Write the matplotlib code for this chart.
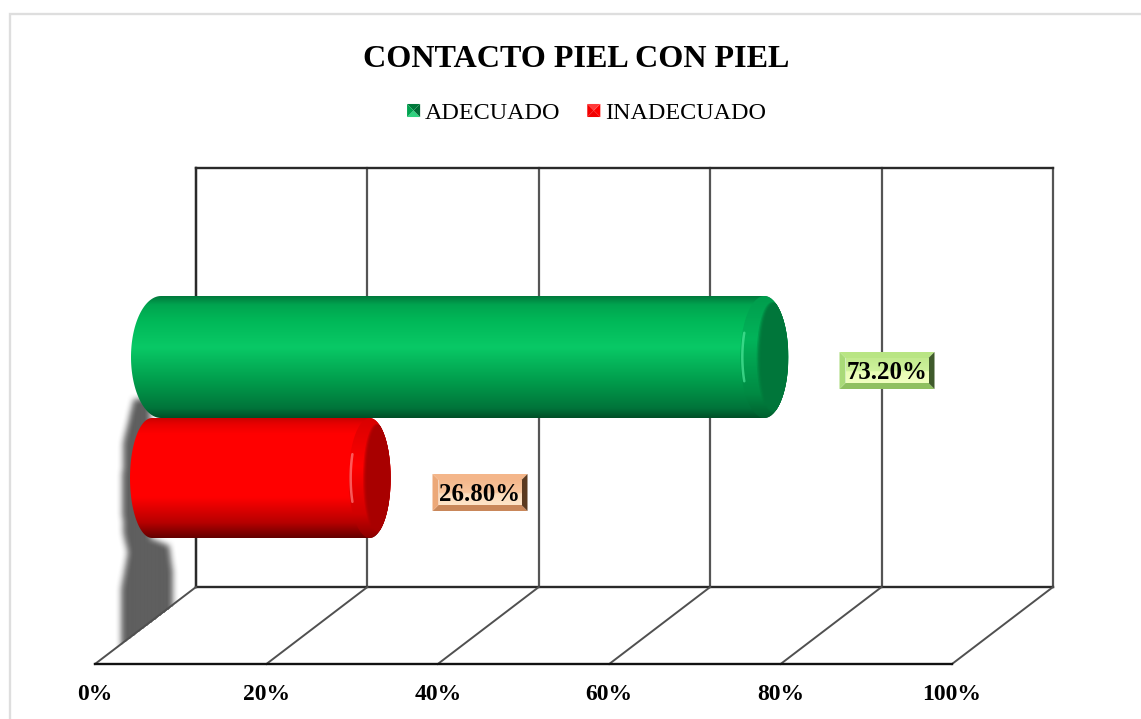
import numpy as np
import matplotlib
matplotlib.use("Agg")
import matplotlib.pyplot as plt
from matplotlib.colors import LinearSegmentedColormap
from matplotlib.legend_handler import HandlerBase
from matplotlib.patches import Patch, Polygon, Rectangle
from matplotlib.path import Path
from matplotlib.ticker import FuncFormatter

plt.rcParams['font.family'] = ['Liberation Serif', 'DejaVu Serif']

categories = ['ADECUADO', 'INADECUADO']
values = [73.2, 26.8]
value_labels = ['73.20%', '26.80%']
x_ticks = [0, 20, 40, 60, 80, 100]
title = 'CONTACTO PIEL CON PIEL'

W, H = 1141, 719
L, R, TOP, FRONT, BACK = 95, 952, 168, 664, 587
PX = (R - L) / 100
DEPTH = 101 / PX

fig = plt.figure(figsize=(W / 100, H / 100), dpi=100)
fig.add_artist(Rectangle((10 / W, -0.02), 1.02, 1.02 - 13.5 / H, transform=fig.transFigure,
                         fill=False, ec='#dedede', lw=1.7))
ax = fig.add_axes([L / W, 1 - FRONT / H, (R - L) / W, (FRONT - TOP) / H])
ax.set_xlim(0, 100)
ax.set_ylim(FRONT, TOP)
ax.patch.set_alpha(0)
ax.set_yticks([])
ax.set_xticks(x_ticks)
ax.xaxis.set_major_formatter(FuncFormatter(lambda v, _: f'{v:.0f}%'))
ax.tick_params(axis='x', length=0, pad=14.5, labelsize=17)
for t in ax.get_xticklabels():
    t.set_fontweight('bold')
for s in ['top', 'left', 'right']:
    ax.spines[s].set_visible(False)
ax.spines['bottom'].set_linewidth(1.7)
ax.spines['bottom'].set_color('#111111')
ax.spines['bottom'].set_zorder(6)


def px(x):
    return (x - L) / PX


# Walls and floor of the pseudo 3-D box
diag_kw = dict(color='#505050', lw=1.4, clip_on=False, zorder=4)
vert_kw = dict(color='#555555', lw=1.6, clip_on=False, zorder=2)
for t in x_ticks:
    ax.plot([t, t + DEPTH], [FRONT, BACK], **diag_kw)
    ax.plot([t + DEPTH, t + DEPTH], [BACK, TOP], **vert_kw)
edge_kw = dict(color='#2a2a2a', lw=1.7, clip_on=False, zorder=2)
ax.plot([DEPTH, 100 + DEPTH], [TOP, TOP], **edge_kw)
ax.plot([DEPTH, 100 + DEPTH], [BACK, BACK], **edge_kw)
ax.plot([DEPTH, DEPTH], [BACK, TOP], **edge_kw)


# Blurred shadow
def blurred_shadow():
    x0, x1, y0, y1 = 100, 190, 380, 660
    xx, yy = np.meshgrid(np.arange(x0, x1), np.arange(y0, y1))
    pts = np.column_stack([xx.ravel(), yy.ravel()])
    outline = [(150, 398), (133, 398), (123, 440), (121, 500), (123, 535), (127, 552), (121, 585), (120, 660),
               (172, 660), (172, 575), (168, 545), (150, 538)]
    mask = Path(outline).contains_points(pts).reshape(xx.shape).astype(float)
    k = np.ones(7) / 7
    for _ in range(2):
        mask = np.apply_along_axis(lambda r: np.convolve(r, k, mode='same'), 0, mask)
        mask = np.apply_along_axis(lambda r: np.convolve(r, k, mode='same'), 1, mask)
    # the floor edge cuts the lower end of the shadow
    line_y = BACK + (xx - (L + 101)) * (FRONT - BACK) / (-101)
    mask[yy > line_y] = 0
    rgba = np.zeros(mask.shape + (4,))
    rgba[..., :3] = 0x5e / 255
    rgba[..., 3] = mask
    ax.imshow(rgba, extent=[px(x0), px(x1), y1, y0], aspect='auto', zorder=3, interpolation='bilinear')


blurred_shadow()
ax.set_xlim(0, 100)
ax.set_ylim(FRONT, TOP)


def gradient(stops, x0, x1, y0, y1, clip, z):
    cmap = LinearSegmentedColormap.from_list('g', stops)
    im = ax.imshow(np.linspace(0, 1, 256).reshape(-1, 1), cmap=cmap, vmin=0, vmax=1, aspect='auto',
                   extent=[x0, x1, y1, y0], zorder=z, interpolation='bilinear')
    im.set_clip_path(clip)
    return im


def half_ellipse(cx, cy, a, b, t0, t1, n=60):
    t = np.linspace(t0, t1, n)
    return np.column_stack([px(cx + a * np.cos(t)), cy + b * np.sin(t)])


TIP_OFFSET = 66  # pixels from the value on the front axis to the tip of the cylinder
bars = [
    dict(top=296, bot=418, left=131, a_left=30, a_cap=24, z=5,
         body=[(0, '#00793c'), (0.07, '#00a44f'), (0.2, '#00b858'), (0.42, '#09c966'), (0.72, '#00994a'),
               (0.92, '#00743a'), (1, '#004f27')],
         cap=[(0, '#009c4c'), (0.35, '#02b45a'), (0.8, '#008a43'), (1, '#005f2f')],
         inner='#00763a', shine='#4fe89b'),
    dict(top=418, bot=538, left=130, a_left=22, a_cap=21, z=4,
         body=[(0, '#cc0000'), (0.05, '#e80000'), (0.13, '#ff0000'), (0.66, '#ff0000'), (0.87, '#b80000'),
               (1, '#640000')],
         cap=[(0, '#d80000'), (0.4, '#ff0000'), (0.8, '#d00000'), (1, '#8a0000')],
         inner='#a80000', shine='#ff8080'),
]
for value, b in zip(values, bars):
    tip = L + value * PX + TIP_OFFSET
    cy = (b['top'] + b['bot']) / 2
    hh = (b['bot'] - b['top']) / 2
    cx_l = b['left'] + b['a_left']
    cx_r = tip - b['a_cap']
    outline = np.vstack([half_ellipse(cx_l, cy, b['a_left'], hh, np.pi * 1.5, np.pi * 0.5),
                         half_ellipse(cx_r, cy, b['a_cap'], hh, np.pi * 0.5, -np.pi * 0.5)])
    body = Polygon(outline, closed=True, transform=ax.transData, fc='none', ec='none')
    ax.add_patch(body)
    gradient(b['body'], px(b['left']), px(tip), b['top'], b['bot'], body, b['z'])

    cap = Polygon(half_ellipse(cx_r, cy, b['a_cap'], hh, 0, 2 * np.pi), closed=True,
                  transform=ax.transData, fc='none', ec='none')
    ax.add_patch(cap)
    gradient(b['cap'], px(cx_r - b['a_cap']), px(tip), b['top'], b['bot'], cap, b['z'] + 0.1)
    # soft-edged darker end face
    for i, f in enumerate(np.linspace(0.66, 0.55, 5)):
        inner = Polygon(half_ellipse(tip - b['a_cap'] * f, cy, b['a_cap'] * f, hh * (0.72 + f * 0.28), 0, 2 * np.pi),
                        closed=True, fc=b['inner'], ec='none', alpha=0.35 + 0.15 * i, zorder=b['z'] + 0.2 + i * 0.01)
        ax.add_patch(inner)
        inner.set_clip_path(cap)
    ax.plot(*half_ellipse(cx_r + 2, cy, b['a_cap'], hh, np.pi * 1.13, np.pi * 0.87, 20).T, color=b['shine'],
            lw=1.8, alpha=0.7, zorder=b['z'] + 0.3, solid_capstyle='round')

# Bevelled value labels
label_styles = [
    dict(center=(887, 370.5), top='#b9e584', left='#a9da78', right='#3f5a2b', bottom='#8fc060',
         face=[(0, '#c2ea8e'), (0.5, '#cff29c'), (0.55, '#e9fdb5'), (1, '#f0ffc0')]),
    dict(center=(480, 492.5), top='#f4b68a', left='#eca878', right='#5b3a20', bottom='#c9875a',
         face=[(0, '#f4b88c'), (0.5, '#f8c69e'), (0.55, '#fcdcbc'), (1, '#fee4c8')]),
]
for text, st in zip(value_labels, label_styles):
    cx, cy = st['center']
    x0, x1, y0, y1 = cx - 47.5, cx + 47.5, cy - 18.5, cy + 18.5
    b = 6
    corners = {
        'top': [(x0, y0), (x1, y0), (x1 - b, y0 + b), (x0 + b, y0 + b)],
        'bottom': [(x0, y1), (x1, y1), (x1 - b, y1 - b), (x0 + b, y1 - b)],
        'left': [(x0, y0), (x0 + b, y0 + b), (x0 + b, y1 - b), (x0, y1)],
        'right': [(x1, y0), (x1 - b, y0 + b), (x1 - b, y1 - b), (x1, y1)],
    }
    for side, pts in corners.items():
        ax.add_patch(Polygon([(px(p), q) for p, q in pts], closed=True, fc=st[side], ec='none', zorder=7))
    face = Rectangle((px(x0 + b), y0 + b), (x1 - x0 - 2 * b) / PX, y1 - y0 - 2 * b, fc='none', ec='none')
    ax.add_patch(face)
    gradient(st['face'], px(x0 + b), px(x1 - b), y0 + b, y1 - b, face, 7.1)
    ax.text(px(cx), cy + 2, text, ha='center', va='center', fontsize=17.9, fontweight='bold',
            color='black', zorder=8)

ax.set_xlim(0, 100)
ax.set_ylim(FRONT, TOP)


# Legend with small pyramid swatches
class PyramidHandler(HandlerBase):
    def __init__(self, shades):
        super().__init__()
        self.shades = shades

    def create_artists(self, legend, orig, xd, yd, width, height, fontsize, trans):
        s = 9.4
        x0, y0 = width - s - xd, (height - s) / 2 - yd
        xm, ym = x0 + s / 2, y0 + s / 2
        c = [(x0, y0), (x0 + s, y0), (x0 + s, y0 + s), (x0, y0 + s)]
        arts = []
        for i, col in enumerate(self.shades):
            arts.append(Polygon([c[i], c[(i + 1) % 4], (xm, ym)], closed=True, fc=col, ec='none', transform=trans))
        return arts


h1, h2 = Patch(label=categories[0]), Patch(label=categories[1])
fig.legend([h1, h2], categories, loc='center', bbox_to_anchor=(586.5 / W, 1 - 113 / H), ncol=2,
           frameon=False, fontsize=17.4, handlelength=0.55, handletextpad=0.2, columnspacing=1.1,
           handler_map={h1: PyramidHandler(['#2fd27f', '#006b35', '#007a3c', '#00a24f']),
                        h2: PyramidHandler(['#f00000', '#ff0000', '#ff3a3a', '#f40000'])},
           borderpad=0)

fig.text(576 / W, 1 - 59.5 / H, title, ha='center', va='center', fontsize=23.1, fontweight='bold', color='black')

fig.savefig('out.png', dpi=100)
